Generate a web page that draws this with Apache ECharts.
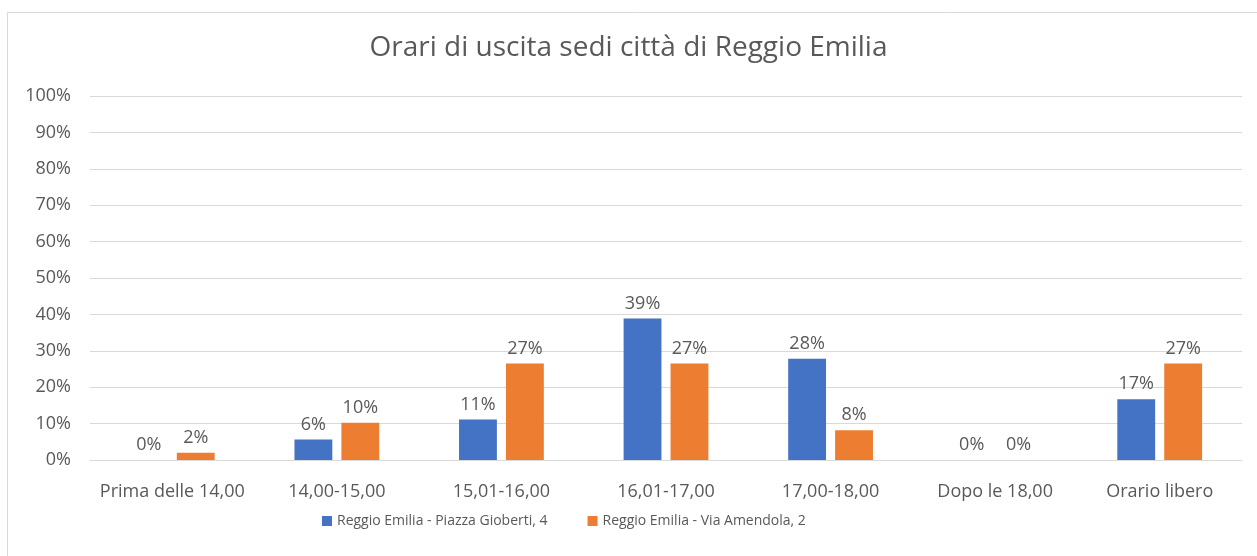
<!DOCTYPE html>
<html>
<head>
<meta charset="utf-8">
<script src="https://cdn.jsdelivr.net/npm/echarts@6/dist/echarts.min.js"></script>
<style>
  html, body { margin: 0; padding: 0; background: #fff; }
  #chart { width: 1257px; height: 556px; }
</style>
</head>
<body>
<div id="chart"></div>
<script>
const categories = ['Prima delle 14,00', '14,00-15,00', '15,01-16,00', '16,01-17,00', '17,00-18,00', 'Dopo le 18,00', 'Orario libero']
const seriesNames = ['Reggio Emilia - Piazza Gioberti, 4', 'Reggio Emilia - Via Amendola, 2']
const gioberti = [0, 5.6, 11.1, 38.9, 27.8, 0, 16.7]
const amendola = [2.0, 10.2, 26.5, 26.5, 8.2, 0, 26.5]

const font = '"Open Sans", "Noto Sans", sans-serif'
const textColor = '#595959'

const chart = echarts.init(document.getElementById('chart'))

// etichetta sopra la barra, arrotondata all'intero
const barLabel = {
  show: true,
  position: 'top',
  distance: 6,
  color: textColor,
  fontFamily: font,
  fontSize: 18,
  formatter: p => Math.round(p.value) + '%'
}

const option = {
  animation: false,
  title: {
    text: 'Orari di uscita sedi città di Reggio Emilia',
    left: 'center',
    top: 29,
    textStyle: { fontFamily: font, fontSize: 28, fontWeight: 'normal', color: textColor }
  },
  graphic: [{
    type: 'rect',
    shape: { x: 7.5, y: 12.5, width: 1300, height: 600 },
    style: { fill: 'none', stroke: '#d9d9d9', lineWidth: 1 },
    silent: true
  }],
  legend: {
    bottom: 23,
    left: 317,
    itemWidth: 10,
    itemHeight: 10,
    itemGap: 40,
    icon: 'rect',
    textStyle: { fontFamily: font, fontSize: 14, color: textColor }
  },
  grid: { left: 90, right: 15, top: 96, bottom: 96 },
  xAxis: {
    type: 'category',
    data: categories,
    axisTick: { show: false },
    axisLine: { lineStyle: { color: '#d9d9d9' } },
    axisLabel: { interval: 0, fontFamily: font, fontSize: 18, color: textColor, margin: 23 }
  },
  yAxis: {
    type: 'value',
    min: 0,
    max: 100,
    interval: 10,
    axisLabel: { fontFamily: font, fontSize: 18, color: textColor, margin: 19, formatter: '{value}%' },
    splitLine: { lineStyle: { color: '#d9d9d9' } }
  },
  series: [
    {
      name: seriesNames[0],
      type: 'bar',
      data: gioberti,
      barWidth: '23%',
      barGap: '24%',
      itemStyle: { color: '#4472c4' },
      label: barLabel
    },
    {
      name: seriesNames[1],
      type: 'bar',
      data: amendola,
      barWidth: '23%',
      itemStyle: { color: '#ed7d31' },
      label: barLabel
    }
  ]
}
chart.setOption(option)
</script>
</body>
</html>
